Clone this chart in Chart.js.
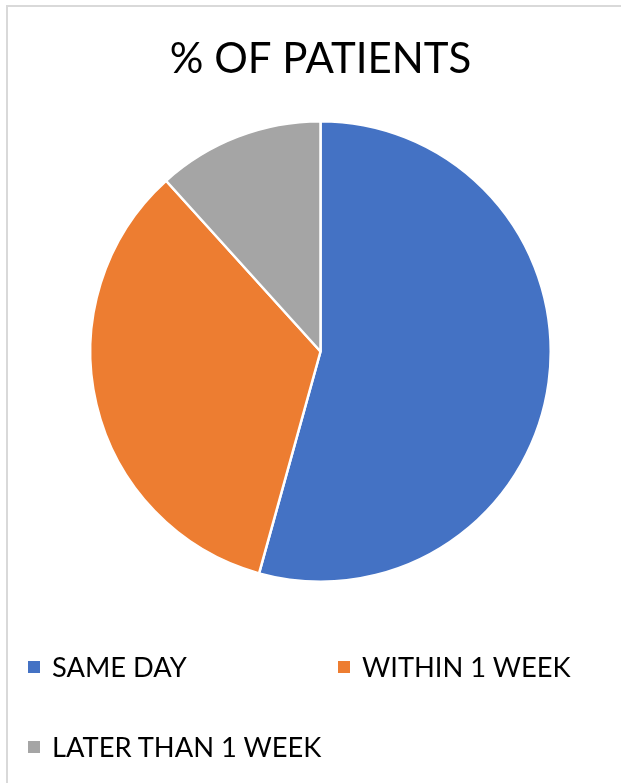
<!DOCTYPE html>
<html>
<head>
<meta charset="utf-8">
<script src="https://cdn.jsdelivr.net/npm/chart.js@4/dist/chart.umd.min.js"></script>
<style>
  html, body { margin: 0; padding: 0; background: #ffffff; }
  body { width: 621px; height: 783px; position: relative; overflow: hidden; font-family: Lato, "Open Sans", sans-serif; }
  .frame { position: absolute; left: 6px; top: 5px; width: 700px; height: 900px; border: 2px solid #d9d9d9; box-sizing: border-box; }
  #wrap { position: absolute; left: 0; top: 0; width: 621px; height: 783px; }
  .legend { position: absolute; left: 0; top: 0; width: 621px; height: 783px; pointer-events: none; }
  .item { position: absolute; display: flex; align-items: center; white-space: nowrap; color: #000; font-size: 27.3px; line-height: 1; }
  .swatch { width: 12px; height: 12px; margin-right: 12px; flex: none; }
</style>
</head>
<body>
<div class="frame"></div>
<div id="wrap"><canvas id="c" width="621" height="783"></canvas></div>
<div class="legend" id="legend"></div>
<script>
// Categories and their share of patients (%)
const categories = ['SAME DAY', 'WITHIN 1 WEEK', 'LATER THAN 1 WEEK'];
const patientShare = [54.3, 34.0, 11.7];
const sliceColors = ['#4472C4', '#ED7D31', '#A5A5A5'];
const chartTitle = '% OF PATIENTS';

const chart = new Chart(document.getElementById('c'), {
  type: 'pie',
  data: {
    labels: categories,
    datasets: [{
      data: patientShare,
      backgroundColor: sliceColors,
      borderColor: '#ffffff',
      borderWidth: 2.5
    }]
  },
  options: {
    responsive: false,
    animation: false,
    layout: { padding: { top: 0, bottom: 200, left: 20, right: 0 } },
    plugins: {
      legend: { display: false },
      tooltip: { enabled: false },
      title: {
        display: true,
        text: chartTitle,
        color: '#000000',
        font: { family: 'Lato', size: 42, weight: 'normal', lineHeight: 1.2 },
        padding: { top: 34, bottom: 35.6 }
      }
    }
  }
});

// Two-column legend laid out below the pie
const legendSlots = [
  { left: 28, top: 667 },
  { left: 338, top: 667 },
  { left: 28, top: 747 }
];
const legendEl = document.getElementById('legend');
chart.data.labels.forEach((label, i) => {
  const item = document.createElement('div');
  item.className = 'item';
  item.style.left = legendSlots[i].left + 'px';
  item.style.top = (legendSlots[i].top - 14) + 'px';
  item.style.height = '28px';
  const sw = document.createElement('span');
  sw.className = 'swatch';
  sw.style.background = chart.data.datasets[0].backgroundColor[i];
  const tx = document.createElement('span');
  tx.textContent = label;
  item.appendChild(sw);
  item.appendChild(tx);
  legendEl.appendChild(item);
});
</script>
</body>
</html>
